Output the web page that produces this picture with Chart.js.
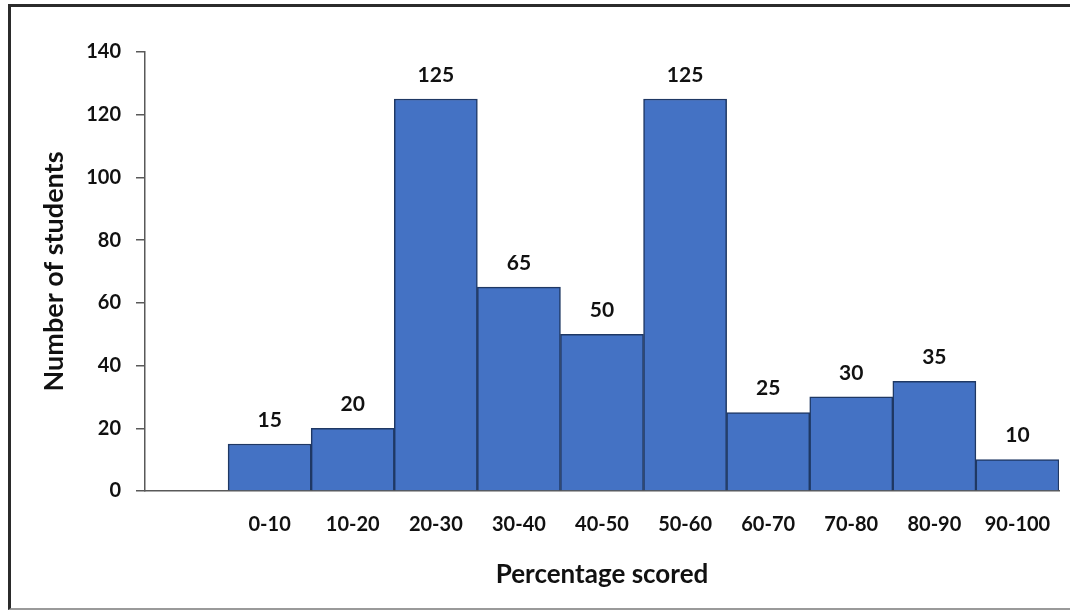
<!DOCTYPE html>
<html>
<head>
<meta charset="utf-8">
<script src="https://cdn.jsdelivr.net/npm/chart.js@4/dist/chart.umd.min.js"></script>
<style>
  html, body { margin: 0; padding: 0; background: #ffffff; overflow: hidden; }
  #wrap { position: absolute; left: 0; top: 0; width: 1070px; height: 610px; }
  #frame { position: absolute; left: 8px; top: 4px; width: 1100px; height: 601px;
           border-left: 3px solid #2b2b2b; border-top: 3px solid #2b2b2b;
           border-bottom: 2px solid #9a9a9a; pointer-events: none; }
</style>
</head>
<body>
<div id="wrap"><canvas id="c" width="1070" height="610"></canvas></div>
<div id="frame"></div>
<script>
// ---- data ----
const categories = ['', '0-10', '10-20', '20-30', '30-40', '40-50', '50-60', '60-70', '70-80', '80-90', '90-100'];
const students = [null, 15, 20, 125, 65, 50, 125, 25, 30, 35, 10];
const yTicks = [0, 20, 40, 60, 80, 100, 120, 140];
const xTitle = 'Percentage scored';
const yTitle = 'Number of students';

const FONT = 'Lato, "Open Sans", "Liberation Sans", sans-serif';
const AXIS = '#595959';

const valueLabels = {
  id: 'valueLabels',
  afterDatasetsDraw(chart) {
    const ctx = chart.ctx;
    const meta = chart.getDatasetMeta(0);
    ctx.save();
    ctx.font = 'bold 21px ' + FONT;
    ctx.fillStyle = '#111111';
    ctx.textAlign = 'center';
    ctx.textBaseline = 'middle';
    meta.data.forEach((bar, i) => {
      const v = chart.data.datasets[0].data[i];
      if (v === null || v === undefined) return;
      ctx.fillText(String(v), bar.x, bar.y - 24);
    });
    ctx.restore();
  }
};

new Chart(document.getElementById('c'), {
  type: 'bar',
  data: {
    labels: categories,
    datasets: [{
      data: students,
      backgroundColor: '#4472C4',
      borderColor: '#1F3864',
      borderWidth: 1.5,
      categoryPercentage: 1.0,
      barPercentage: 1.0
    }]
  },
  options: {
    responsive: false,
    animation: false,
    devicePixelRatio: 1,
    layout: { padding: { top: 52, right: 11, left: 0, bottom: 0 } },
    plugins: { legend: { display: false }, tooltip: { enabled: false } },
    scales: {
      x: {
        grid: { display: false },
        border: { display: true, color: AXIS, width: 1.5 },
        ticks: { color: '#111111', font: { family: FONT, size: 20, weight: 'bold' }, padding: 14, maxRotation: 0, autoSkip: false },
        title: { display: true, text: xTitle, color: '#111111', font: { family: FONT, size: 26, weight: 'bold' }, padding: { top: 0, bottom: 20 } },
        afterFit(scale) { scale.height = 119; }
      },
      y: {
        min: 0, max: 140,
        afterBuildTicks(scale) { scale.ticks = yTicks.map(v => ({ value: v })); },
        grid: { drawOnChartArea: false, drawTicks: true, tickLength: 9, color: AXIS, lineWidth: 1.5 },
        border: { display: true, color: AXIS, width: 1.5 },
        ticks: { color: '#111111', font: { family: FONT, size: 20, weight: 'bold' }, padding: 15 },
        title: { display: true, text: yTitle, color: '#111111', font: { family: FONT, size: 27, weight: 'bold' }, padding: { top: 38, bottom: 0 } },
        afterFit(scale) { scale.width = 145; }
      }
    }
  },
  plugins: [valueLabels]
});
</script>
</body>
</html>
